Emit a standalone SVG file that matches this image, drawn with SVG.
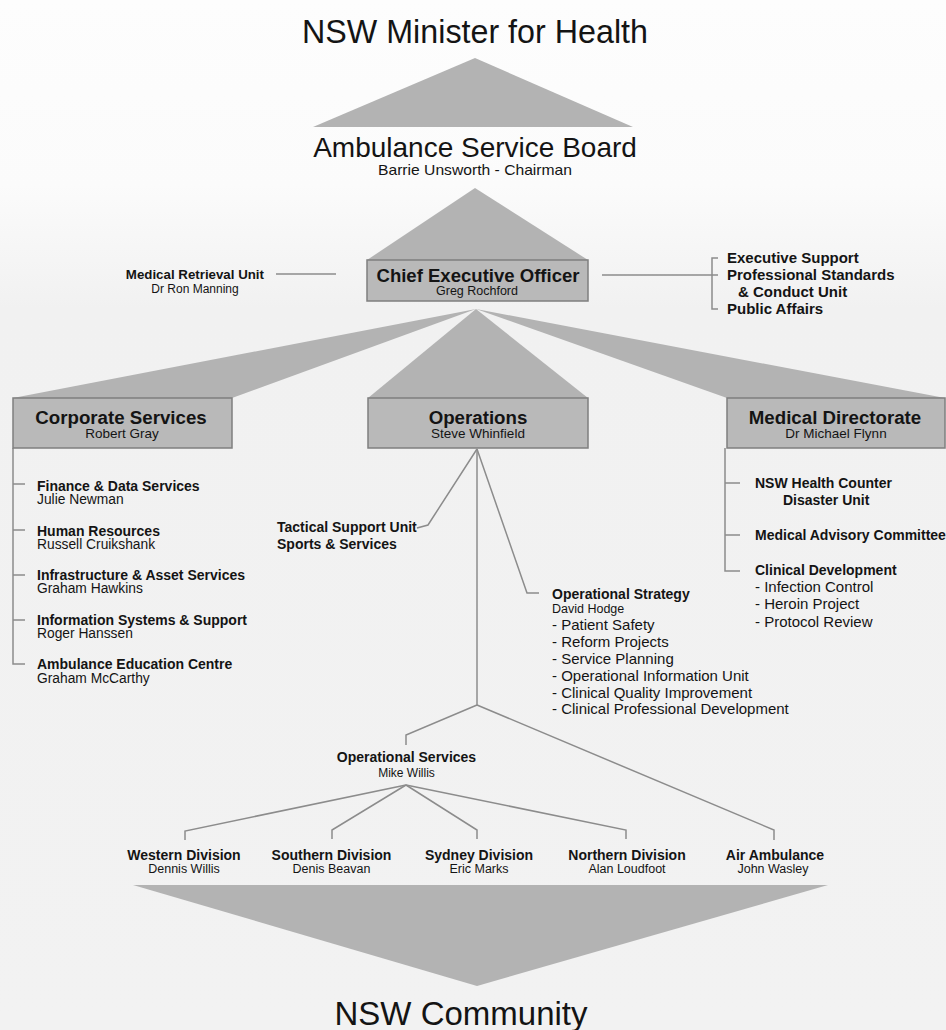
<svg xmlns="http://www.w3.org/2000/svg" width="946" height="1030" viewBox="0 0 946 1030">
<defs>
<style>
text{font-family:"Liberation Sans",Arial,Helvetica,sans-serif;fill:#141414}
.b{font-weight:bold}
.c{text-anchor:middle}
.e{text-anchor:end}
.big{font-size:33px}
.h1{font-size:28px}
.bh{font-size:18.7px;font-weight:bold}
.lb{font-size:14px;font-weight:bold}
.rb{font-size:15px;font-weight:bold}
.ln{font-size:13.8px}
.li{font-size:15px}
.sm{font-size:12.5px}
.shape{fill:#b3b3b3}
.box{fill:#b9b9b9;stroke:#7f7f7f;stroke-width:1.5}
.conn{fill:none;stroke:#8c8c8c;stroke-width:1.5}
</style>
<linearGradient id="bg" x1="0" y1="0" x2="0" y2="1">
  <stop offset="0" stop-color="#fdfdfd"/>
  <stop offset="0.18" stop-color="#fbfbfb"/>
  <stop offset="0.3" stop-color="#f1f1f1"/>
  <stop offset="1" stop-color="#f2f2f2"/>
</linearGradient>
</defs>
<rect width="946" height="1030" fill="url(#bg)"/>

<g id="connectors">
  <polygon class="shape" points="475,58 313,127 633,127"/>
  <polygon class="shape" points="475,188 367,260 588,260"/>
  <polygon class="shape" points="476,309 13,398 232,398"/>
  <polygon class="shape" points="476,309 368,398 588,398"/>
  <polygon class="shape" points="476,309 727,398 945,398"/>
  <polygon class="shape" points="133,885 828,885 477,986"/>
  <path class="conn" d="M276,274 H336"/>
  <path class="conn" d="M602,275 H718 M718,258 H712 V309 H718"/>
  <path class="conn" d="M13,448 V664 H25 M13,484 H25 M13,530 H25 M13,575 H25 M13,620 H25"/>
  <path class="conn" d="M725,448 V571 H740 M725,483 H740 M725,535 H740"/>
  <polyline class="conn" points="417,528 428,525 477,449"/>
  <polyline class="conn" points="477,449 527,593 539,593"/>
  <polyline class="conn" points="477,449 477,705"/>
  <polyline class="conn" points="477,705 406,735 406,745"/>
  <polyline class="conn" points="477,705 774,830 774,840"/>
  <polyline class="conn" points="406,785 185,831 185,840"/>
  <polyline class="conn" points="406,785 332,830 332,839"/>
  <polyline class="conn" points="406,785 477,830 477,839"/>
  <polyline class="conn" points="406,785 626,830 626,839"/>
</g>

<g id="minister">
  <text class="big c" x="475" y="43" textLength="346" lengthAdjust="spacingAndGlyphs">NSW Minister for Health</text>
</g>
<g id="board">
  <text class="h1 c" x="475" y="157">Ambulance Service Board</text>
  <text class="c" x="475" y="175" font-size="15" textLength="194" lengthAdjust="spacingAndGlyphs">Barrie Unsworth - Chairman</text>
</g>
<g id="ceo">
  <rect class="box" x="367" y="260" width="221" height="41"/>
  <text class="b c" x="478" y="282" font-size="19" textLength="203" lengthAdjust="spacingAndGlyphs">Chief Executive Officer</text>
  <text class="sm c" x="477" y="295">Greg Rochford</text>
</g>
<g id="medical-retrieval">
  <text class="b e" x="264" y="279" font-size="13.3">Medical Retrieval Unit</text>
  <text class="c" x="195" y="293" font-size="12">Dr Ron Manning</text>
</g>
<g id="executive-units">
  <text class="rb" x="727" y="263">Executive Support</text>
  <text class="rb" x="727" y="280">Professional Standards</text>
  <text class="rb" x="738" y="297">&amp; Conduct Unit</text>
  <text class="rb" x="727" y="314">Public Affairs</text>
</g>

<g id="corporate">
  <rect class="box" x="13" y="398" width="219" height="50"/>
  <text class="bh c" x="121" y="424">Corporate Services</text>
  <text class="c" x="122" y="438" font-size="13.5">Robert Gray</text>
</g>
<g id="operations">
  <rect class="box" x="368" y="398" width="220" height="50"/>
  <text class="bh c" x="478" y="424">Operations</text>
  <text class="c" x="478" y="438" font-size="13.5">Steve Whinfield</text>
</g>
<g id="medical-directorate">
  <rect class="box" x="727" y="398" width="218" height="50"/>
  <text class="bh c" x="835" y="424">Medical Directorate</text>
  <text class="c" x="836" y="438" font-size="13.5">Dr Michael Flynn</text>
</g>

<g id="finance">
  <text class="lb" x="37" y="491">Finance &amp; Data Services</text>
  <text class="ln" x="37" y="504">Julie Newman</text>
</g>
<g id="hr">
  <text class="lb" x="37" y="535.5">Human Resources</text>
  <text class="ln" x="37" y="549">Russell Cruikshank</text>
</g>
<g id="infrastructure">
  <text class="lb" x="37" y="580">Infrastructure &amp; Asset Services</text>
  <text class="ln" x="37" y="593">Graham Hawkins</text>
</g>
<g id="information-systems">
  <text class="lb" x="37" y="625">Information Systems &amp; Support</text>
  <text class="ln" x="37" y="638">Roger Hanssen</text>
</g>
<g id="education">
  <text class="lb" x="37" y="669">Ambulance Education Centre</text>
  <text class="ln" x="37" y="683">Graham McCarthy</text>
</g>

<g id="tactical">
  <text class="lb" x="277" y="532">Tactical Support Unit</text>
  <text class="lb" x="277" y="549">Sports &amp; Services</text>
</g>
<g id="operational-strategy">
  <text class="lb" x="552" y="599">Operational Strategy</text>
  <text class="sm" x="552" y="613">David Hodge</text>
  <text class="li" x="552" y="630">- Patient Safety</text>
  <text class="li" x="552" y="647">- Reform Projects</text>
  <text class="li" x="552" y="664">- Service Planning</text>
  <text class="li" x="552" y="681">- Operational Information Unit</text>
  <text class="li" x="552" y="697.5">- Clinical Quality Improvement</text>
  <text class="li" x="552" y="714">- Clinical Professional Development</text>
</g>

<g id="counter-disaster">
  <text class="lb" x="755" y="488">NSW Health Counter</text>
  <text class="lb" x="783" y="505">Disaster Unit</text>
</g>
<g id="advisory">
  <text class="lb" x="755" y="540">Medical Advisory Committee</text>
</g>
<g id="clinical-development">
  <text class="lb" x="755" y="575">Clinical Development</text>
  <text class="li" x="755" y="592">- Infection Control</text>
  <text class="li" x="755" y="609">- Heroin Project</text>
  <text class="li" x="755" y="627">- Protocol Review</text>
</g>

<g id="operational-services">
  <text class="lb c" x="406.5" y="762">Operational Services</text>
  <text class="c" x="406.5" y="777" font-size="12">Mike Willis</text>
</g>
<g id="western">
  <text class="lb c" x="184" y="860">Western Division</text>
  <text class="sm c" x="184" y="873">Dennis Willis</text>
</g>
<g id="southern">
  <text class="lb c" x="331.5" y="860">Southern Division</text>
  <text class="sm c" x="331.5" y="873">Denis Beavan</text>
</g>
<g id="sydney">
  <text class="lb c" x="479" y="860">Sydney Division</text>
  <text class="sm c" x="479" y="873">Eric Marks</text>
</g>
<g id="northern">
  <text class="lb c" x="627" y="860">Northern Division</text>
  <text class="sm c" x="627" y="873">Alan Loudfoot</text>
</g>
<g id="air">
  <text class="lb c" x="775" y="860">Air Ambulance</text>
  <text class="sm c" x="773" y="873">John Wasley</text>
</g>

<g id="community">
  <text class="big c" x="461" y="1025" textLength="253" lengthAdjust="spacingAndGlyphs">NSW Community</text>
</g>
</svg>
